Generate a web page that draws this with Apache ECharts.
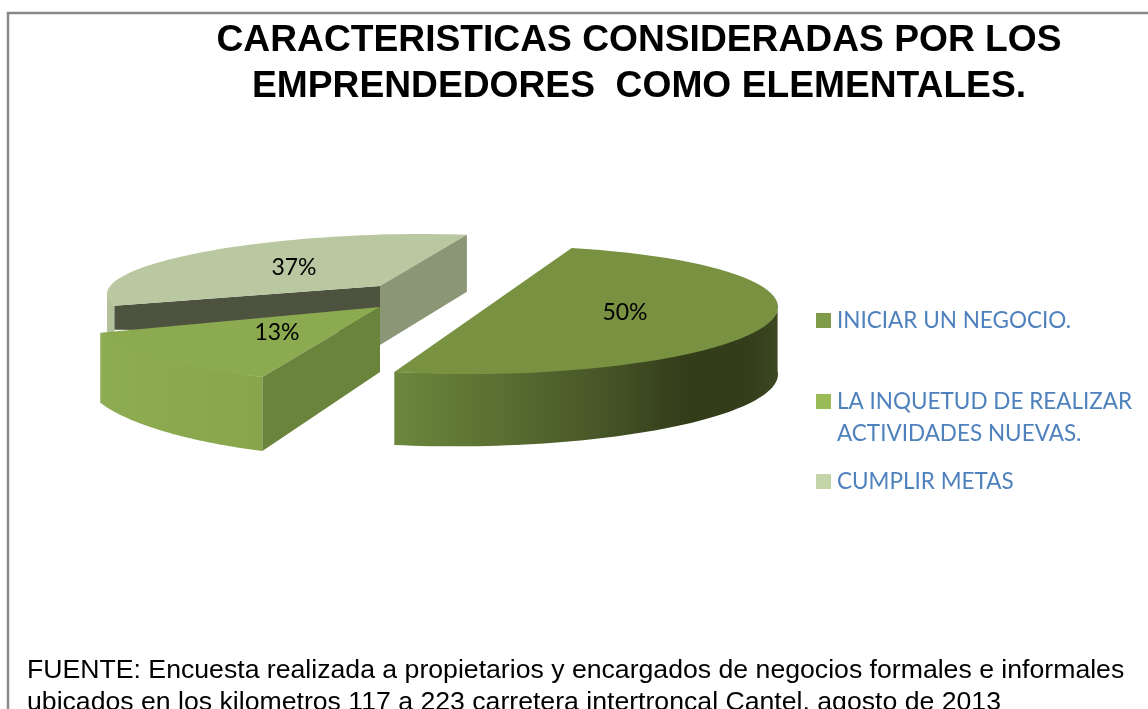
<!DOCTYPE html>
<html><head><meta charset="utf-8">
<style>html,body{margin:0;padding:0;background:#fff;overflow:hidden}#c{width:1148px;height:709px}</style>
<script src="https://cdn.jsdelivr.net/npm/echarts@6/dist/echarts.min.js"></script></head>
<body><div id="c"></div>
<script>
const categories = ['INICIAR UN NEGOCIO.', 'LA INQUETUD DE REALIZAR\nACTIVIDADES NUEVAS.', 'CUMPLIR METAS'];
const percentValues = [50, 13, 37];
const titleText = 'CARACTERISTICAS CONSIDERADAS POR LOS\nEMPRENDEDORES  COMO ELEMENTALES.';
const sourceLines = [
  'FUENTE: Encuesta realizada a propietarios y encargados de negocios formales e informales',
  'ubicados en los kilometros 117 a 223 carretera intertroncal Cantel, agosto de 2013'
];
const legendColors = ['#7f9a48', '#9bbb59', '#c3d5a8'];

const firstAngle = -72.5;
// projected ellipse for each exploded slice
const views = [
  {cx:483, cy:310, a:295, k:0,  b:64, m:-3, shiftStart:0, wallFrom:-3, wallTo:107.5, dStart:67, dEnd:73, apexDepth:0, labelX:625, labelY:313,
   top:'#789241', side:null, inner:null,
   wall:{x:394,x2:778,stops:[[0,'#6c873d'],[0.3,'#596d31'],[0.55,'#465527'],[0.75,'#333d1a'],[0.92,'#333d1a'],[1,'#3c4822']]}},
  {cx:380, cy:307, a:296, k:-30, b:76, m:8, shiftStart:0, wallFrom:107.5, wallTo:154.3, dStart:74, dEnd:70, apexDepth:65, labelX:277, labelY:333,
   top:'#8cab50', side:'#6b843b', sideAt:'start', inner:null,
   wall:{x:100,x2:262,stops:[[0,'#8eac51'],[1,'#88a54c']]}},
  {cx:380, cy:286, a:273, k:-5, b:51.5, m:-7, shiftStart:11.2, wallFrom:160, wallTo:180, dStart:48, dEnd:48, apexDepth:59, labelX:294, labelY:268,
   top:'#b9c8a0', side:'#8a9675', sideAt:'end', inner:'#4e5340', innerDepth:46,
   wall:{x:100,x2:130,stops:[[0,'#b4c29b'],[1,'#b4c29b']]}}
];

function pt(v, deg, dy) {
  const t = deg * Math.PI / 180, c = Math.cos(t), s = Math.sin(t);
  return [v.cx + v.a * c + v.k * s, v.cy + v.b * s + v.m * c + (dy || 0)];
}
function arc(v, from, to, dyFn) {
  const out = [], n = 60;
  for (let i = 0; i <= n; i++) {
    const d = from + (to - from) * i / n;
    out.push(pt(v, d, dyFn ? dyFn(i / n) : 0));
  }
  return out;
}
function sliceAngles(i) {
  let s = firstAngle;
  for (let j = 0; j < i; j++) s += percentValues[j] * 3.6;
  return [s, s + percentValues[i] * 3.6];
}
function makeRender(i) {
  return function (params, api) {
    const value = api.value(0), v = views[i];
    const a0 = sliceAngles(i)[0];
    const t0 = a0 + v.shiftStart, t1 = a0 + value * 3.6;
    const apex = [v.cx, v.cy], kids = [];
    // outer wall (its upper edge runs under the top face so no seam shows)
    const lo = Math.max(v.wallFrom, t0), hi = Math.min(v.wallTo, t1);
    const wallTop = arc(v, lo, hi, f => -2 * Math.sin(Math.PI * f));
    const wallBot = arc(v, lo, hi, f => v.dStart + (v.dEnd - v.dStart) * f).reverse();
    kids.push({type:'polygon', shape:{points:wallTop.concat(wallBot)}, silent:true,
      style:{fill:{type:'linear', global:true, x:v.wall.x, y:0, x2:v.wall.x2, y2:0,
        colorStops:v.wall.stops.map(s => ({offset:s[0], color:s[1]}))}}});
    // flat cut faces
    if (v.inner) {
      const e = pt(v, t0);
      kids.push({type:'polygon', silent:true, style:{fill:v.inner},
        shape:{points:[apex, e, [e[0], e[1] + 24], [apex[0], apex[1] + v.innerDepth]]}});
    }
    // top face
    kids.push({type:'polygon', silent:true, style:{fill:v.top},
      shape:{points:[apex].concat(arc(v, t0, t1))}});
    if (v.side) {
      const e = pt(v, v.sideAt === 'start' ? t0 : t1);
      const d = v.sideAt === 'start' ? v.dStart : v.apexDepth - 2;
      kids.push({type:'polygon', silent:true, style:{fill:v.side},
        shape:{points:[apex, e, [e[0], e[1] + d], [apex[0], apex[1] + v.apexDepth]]}});
    }
    kids.push({type:'text', silent:true, x:v.labelX, y:v.labelY, style:{
      text:value + '%', fill:'#000', font:'23px Lato', align:'center', verticalAlign:'middle'}});
    return {type:'group', children:kids};
  };
}
// painter's order: back slice first
const drawOrder = [2, 1, 0];
const series = drawOrder.map(i => ({
  type:'custom', name:categories[i], coordinateSystem:'none', silent:true,
  data:[[percentValues[i]]], renderItem:makeRender(i),
  itemStyle:{color:legendColors[i]}, animation:false
}));
const legendTops = [309, 390, 470];
const legend = categories.map((c, i) => ({
  show:true, data:[c], left:810, top:legendTops[i], orient:'vertical', padding:[0,6],
  selectedMode:false, itemWidth:15, itemHeight:15, itemGap:0,
  icon:'rect', formatter:n => n.split('\n')[0],
  textStyle:{color:'#4f81bd', fontFamily:'Lato', fontSize:22.5, padding:[0,0,0,1]}
}));

const chart = echarts.init(document.getElementById('c'), null, {renderer:'canvas'});
chart.setOption({
  backgroundColor:'#fff', animation:false,
  title:{text:titleText, left:639, top:18, textAlign:'center', padding:0,
    textStyle:{fontFamily:'Liberation Sans', fontWeight:'bold', fontSize:37.2, lineHeight:45.5, color:'#000'}},
  legend, series,
  graphic:[
    {type:'polyline', silent:true, shape:{points:[[8,709],[8,13],[1148,13]]}, style:{stroke:'#888', lineWidth:2.5, fill:null}},
    {type:'text', silent:true, x:837, y:434, style:{text:categories[1].split('\n')[1], fill:'#4f81bd', font:'22.5px Lato', verticalAlign:'middle'}},
    {type:'text', silent:true, x:27, y:671, style:{text:sourceLines[0], fill:'#000', font:'26.65px "Liberation Sans"', verticalAlign:'middle'}},
    {type:'text', silent:true, x:27, y:703, style:{text:sourceLines[1], fill:'#000', font:'26.65px "Liberation Sans"', verticalAlign:'middle'}}
  ]
});
</script></body></html>
